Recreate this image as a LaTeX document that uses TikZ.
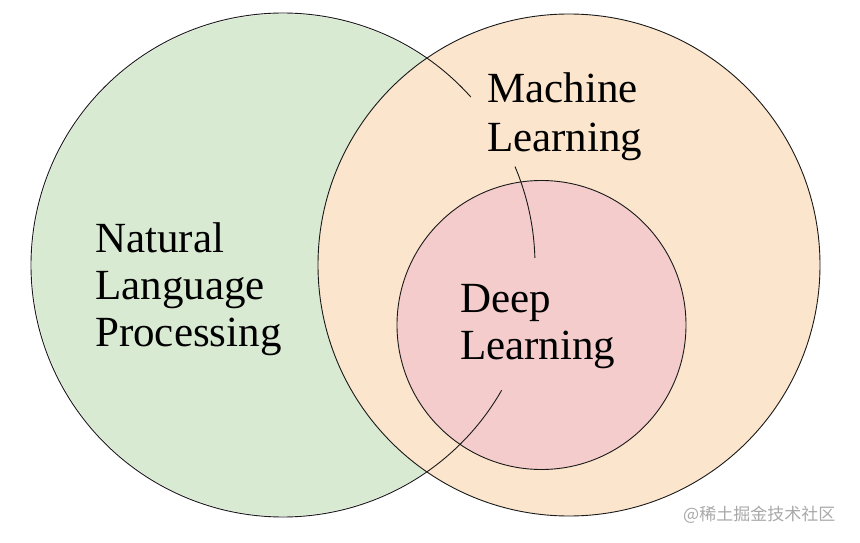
\documentclass[tikz,border=0pt]{standalone}
\usepackage{fontspec}
\setmainfont{Liberation Serif}
\newfontfamily\cjk{Noto Sans CJK SC}
\definecolor{nlpgreen}{HTML}{D9EAD3}
\definecolor{mlorange}{HTML}{FCE5CD}
\definecolor{dlpink}{HTML}{F4CCCC}
\definecolor{wmgrey}{HTML}{A8A8A8}
\begin{document}
\begin{tikzpicture}[x=1pt,y=1pt,
  outline/.style={draw=black!90,line width=0.9pt},
  label/.style={anchor=base west,inner sep=0pt,font=\fontsize{43}{48}\selectfont,text=black}]
\useasboundingbox (0,0) rectangle (860,542);
% fills
\fill[nlpgreen] (283,277) circle[radius=251];
\fill[mlorange] (569,277) circle[radius=251];
\fill[dlpink] (541.5,217) circle[radius=144.5];
% outlines
\draw[outline] (569,277) circle[radius=251];
\draw[outline] (541.5,217) circle[radius=144.5];
\draw[outline] (283,277) ++(41.8:252) arc[start angle=41.8,end angle=330.2,radius=252];
\draw[outline] (283,277) ++(1.6:252) arc[start angle=1.6,end angle=23,radius=252];
% texts
\node[label] (nlp1) at (95,290) {Natural};
\node[label] (nlp2) at (95,243) {Language};
\node[label] (nlp3) at (95,196) {Processing};
\node[label] (ml1) at (487,439) {Machine};
\node[label] (ml2) at (487,390) {Learning};
\node[label] (dl1) at (460,230) {Deep};
\node[label] (dl2) at (460,183) {Learning};
\node[anchor=west,inner sep=0pt,text=wmgrey,font=\cjk\fontsize{17}{20}\selectfont] (wm) at (683,27) {@稀土掘金技术社区};
\end{tikzpicture}
\end{document}
